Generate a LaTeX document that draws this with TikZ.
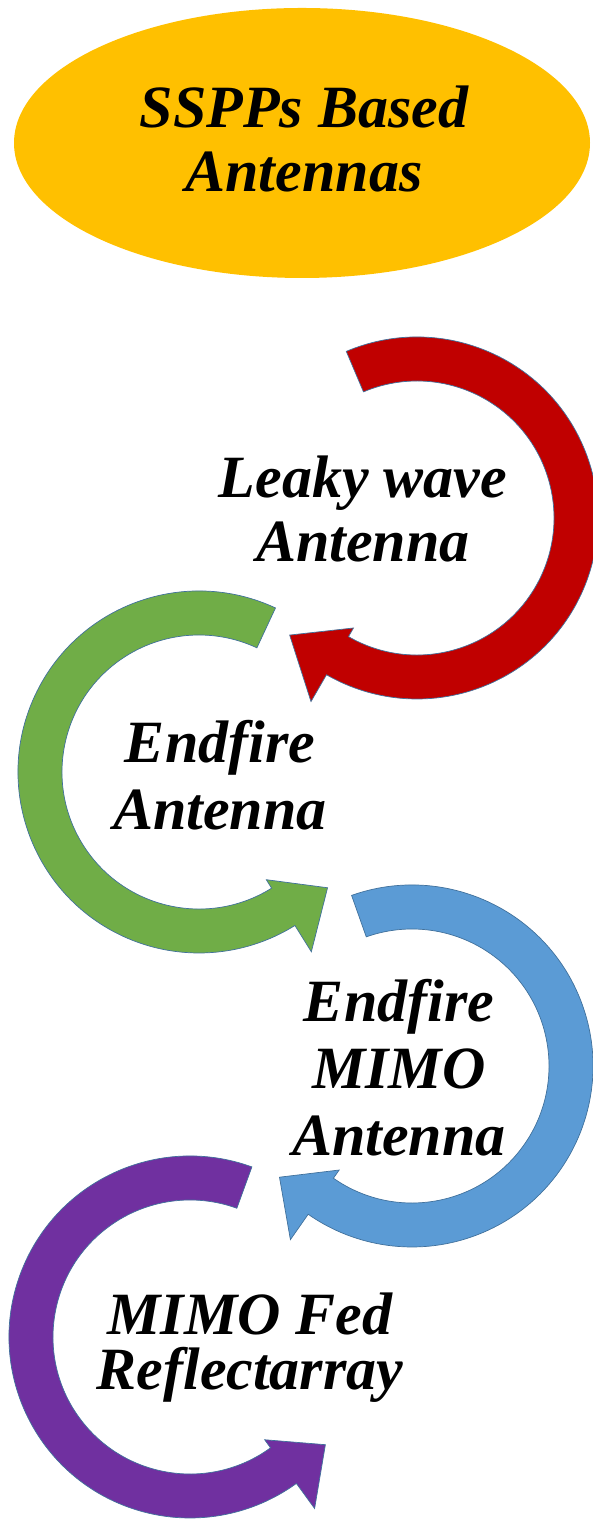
\documentclass[tikz,border=0pt]{standalone}
\usepackage{fontspec}
\setmainfont{Liberation Serif}
\usetikzlibrary{shapes.geometric}

\definecolor{gold}{HTML}{FFC000}
\definecolor{arrred}{HTML}{C00000}
\definecolor{arrgreen}{HTML}{70AD47}
\definecolor{arrblue}{HTML}{5B9BD5}
\definecolor{arrpurple}{HTML}{7030A0}
\definecolor{rim}{HTML}{41719C}

% centred lines, baseline of the node = baseline of the first line
\newcommand\stack[1]{\vtop{\halign{\hfil##\hfil\cr#1\crcr}}}

% ring arrow: #1 centre, #2 xscale (1 = opening right, -1 = opening left),
% #3 tail angle, #4 head base angle, #5 tip angle, #6 colour
\newcommand\ringarrow[6]{%
  \begin{scope}[shift={#1}, xscale=#2]
    \filldraw[fill=#6, draw=rim, line width=0.7pt, line join=miter]
      (#3:181) arc[start angle=#3, end angle=#4, radius=181]
      -- (#4:212) -- (#5:173) -- (#4:127) -- (#4:137)
      arc[start angle=#4, end angle=#3, radius=137] -- cycle;
  \end{scope}}

\begin{document}
\begin{tikzpicture}[x=1pt, y=1pt,
  lbl/.style={anchor=base, inner sep=0pt,
    font=\bfseries\itshape\fontsize{60}{#1}\selectfont}]
\useasboundingbox (0,0) rectangle (593,1521);

% heading
\node[ellipse, fill=gold, minimum width=576pt, minimum height=270pt,
      inner sep=0pt] (hub) at (302,1378) {};
\node[lbl=64] (title) at (304,1393) {\stack{SSPPs Based\cr Antennas}};

% chain of ring arrows
\ringarrow{(417,1003)}{-1}{67}{300}{317.4}{arrred}
\ringarrow{(199,749)}{1}{65}{302}{318}{arrgreen}
\ringarrow{(412,455)}{-1}{70.5}{305}{320}{arrblue}
\ringarrow{(190,184)}{1}{70}{306}{321.5}{arrpurple}

% labels
\node[lbl=64] (leaky)   at (363,1023) {\stack{Leaky wave\cr Antenna}};
\node[lbl=67] (endfire) at (220,758)  {\stack{Endfire\cr Antenna}};
\node[lbl=67] (mimo)    at (399,499)  {\stack{Endfire\cr MIMO\cr Antenna}};
\node[lbl=55] (reflect) at (250,186)  {\stack{MIMO Fed\cr Reflectarray}};
\end{tikzpicture}
\end{document}
